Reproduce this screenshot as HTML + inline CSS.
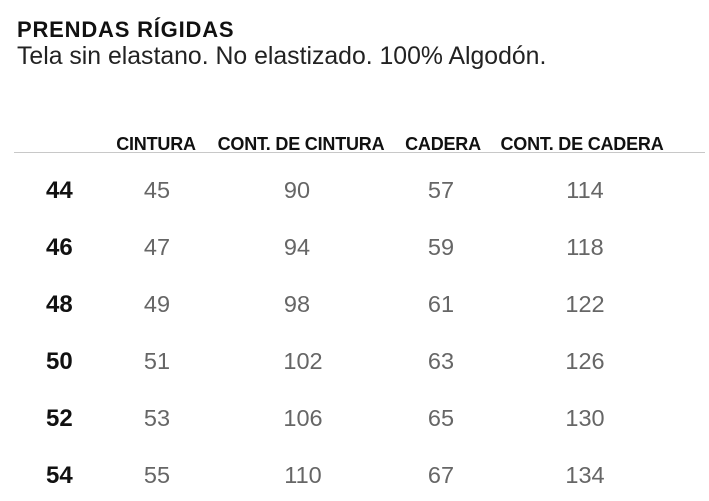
<!DOCTYPE html>
<html><head><meta charset="utf-8"><style>
body{margin:0;width:709px;height:501px;background:#fff;position:relative;overflow:hidden;font-family:"Liberation Sans",sans-serif;color:#111}
.a{position:absolute;white-space:nowrap}
.t{left:17px;top:17px;font-size:22px;font-weight:bold;letter-spacing:0.8px}
.s{left:17px;top:43px;font-size:24.8px;color:#222}
.h{top:134px;font-size:18px;font-weight:bold;letter-spacing:-0.2px;transform:translateX(-50%)}
.line{position:absolute;left:14px;top:152px;width:691px;height:1px;background:#c8c8c8}
.z{left:46px;font-size:24px;font-weight:bold}
.v{font-size:23.5px;color:#666;transform:translateX(-50%)}
</style></head><body>
<div class="a t">PRENDAS RÍGIDAS</div>
<div class="a s">Tela sin elastano. No elastizado. 100% Algodón.</div>
<div class="a h" style="left:156px">CINTURA</div>
<div class="a h" style="left:301px">CONT. DE CINTURA</div>
<div class="a h" style="left:443px">CADERA</div>
<div class="a h" style="left:582px">CONT. DE CADERA</div>
<div class="line"></div>
<div class="a z" style="top:177px">44</div><div class="a v" style="top:177px;left:157px">45</div><div class="a v" style="top:177px;left:297px">90</div><div class="a v" style="top:177px;left:441px">57</div><div class="a v" style="top:177px;left:585px">114</div>
<div class="a z" style="top:234px">46</div><div class="a v" style="top:234px;left:157px">47</div><div class="a v" style="top:234px;left:297px">94</div><div class="a v" style="top:234px;left:441px">59</div><div class="a v" style="top:234px;left:585px">118</div>
<div class="a z" style="top:291px">48</div><div class="a v" style="top:291px;left:157px">49</div><div class="a v" style="top:291px;left:297px">98</div><div class="a v" style="top:291px;left:441px">61</div><div class="a v" style="top:291px;left:585px">122</div>
<div class="a z" style="top:348px">50</div><div class="a v" style="top:348px;left:157px">51</div><div class="a v" style="top:348px;left:303px">102</div><div class="a v" style="top:348px;left:441px">63</div><div class="a v" style="top:348px;left:585px">126</div>
<div class="a z" style="top:405px">52</div><div class="a v" style="top:405px;left:157px">53</div><div class="a v" style="top:405px;left:303px">106</div><div class="a v" style="top:405px;left:441px">65</div><div class="a v" style="top:405px;left:585px">130</div>
<div class="a z" style="top:462px">54</div><div class="a v" style="top:462px;left:157px">55</div><div class="a v" style="top:462px;left:303px">110</div><div class="a v" style="top:462px;left:441px">67</div><div class="a v" style="top:462px;left:585px">134</div>
</body></html>
